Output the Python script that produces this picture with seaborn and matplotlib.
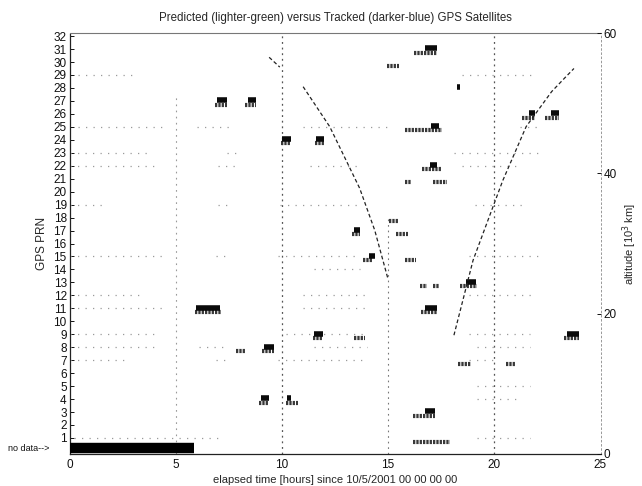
import matplotlib
matplotlib.use("Agg")
import matplotlib.pyplot as plt
import seaborn as sns
import pandas as pd

# ---------------- data ----------------
prn_ticks = list(range(1, 33))
hour_ticks = [0, 5, 10, 15, 20, 25]
alt_ticks = [0, 20, 40, 60]

# tracked passes: PRN, start hour, end hour
trk_prn   = [27, 27, 24, 24, 17, 15, 11, 9, 8, 4, 4, 31, 28, 26, 26, 25, 22, 13, 11, 9, 3]
trk_start = [6.95, 8.40, 10.00, 11.60, 13.40, 14.10, 5.95, 11.50, 9.15, 9.00, 10.25, 16.75, 18.26, 21.65, 22.65, 17.00, 16.95, 18.65, 16.75, 23.40, 16.75]
trk_end   = [7.40, 8.80, 10.45, 12.00, 13.70, 14.40, 7.10, 11.95, 9.65, 9.40, 10.45, 17.30, 18.38, 21.90, 23.05, 17.40, 17.30, 19.15, 17.30, 24.00, 17.20]

# predicted passes: PRN, start hour, end hour
prd_prn   = [27, 27, 24, 24, 17, 15, 11, 9, 9, 8, 8, 4, 4, 31, 30, 26, 26, 25, 22, 21, 21, 18, 17, 15, 13, 13, 13, 11, 9, 7, 7, 3, 1]
prd_start = [6.85, 8.25, 9.95, 11.55, 13.30, 13.80, 5.90, 11.45, 13.40, 7.85, 9.05, 8.90, 10.20, 16.20, 14.95, 21.30, 22.40, 15.80, 16.60, 15.80, 17.10, 15.05, 15.35, 15.80, 16.50, 17.10, 18.40, 16.55, 23.30, 18.30, 20.55, 16.15, 16.15]
prd_end   = [7.40, 8.80, 10.45, 12.00, 13.70, 14.30, 7.15, 11.95, 13.90, 8.30, 9.65, 9.35, 10.75, 17.30, 15.50, 21.90, 23.05, 17.55, 17.55, 16.10, 17.75, 15.45, 15.95, 16.30, 16.85, 17.40, 19.20, 17.30, 24.00, 18.90, 21.00, 17.20, 17.90]

# faint (sparse) rows: PRN, start hour, end hour
fnt_prn   = [29, 29, 25, 25, 25, 25, 23, 23, 23, 22, 22, 22, 22, 19, 19, 19, 19, 15, 15, 15, 15, 12, 12, 12, 11, 11, 9, 9, 9, 8, 8, 8, 8, 7, 7, 7, 7, 5, 4, 1, 1, 14]
fnt_start = [0.4, 18.5, 0.4, 6.0, 11.0, 21.2, 0.0, 7.4, 18.1, 0.0, 7.0, 11.3, 18.5, 0.0, 7.0, 9.9, 19.1, 0.0, 6.9, 9.8, 18.8, 0.0, 11.0, 18.8, 0.0, 11.0, 0.0, 10.2, 18.8, 0.0, 6.1, 11.5, 19.2, 0.0, 6.9, 9.8, 18.8, 19.2, 19.2, 0.2, 19.2, 11.5]
fnt_end   = [3.0, 21.8, 4.4, 7.6, 15.0, 22.1, 3.8, 7.9, 22.1, 4.2, 7.9, 13.7, 21.0, 1.6, 7.7, 13.7, 21.3, 4.4, 7.5, 13.7, 22.1, 3.3, 14.0, 21.8, 4.4, 14.0, 4.0, 14.0, 21.7, 4.0, 7.5, 14.0, 21.7, 2.7, 7.5, 14.0, 20.2, 21.7, 21.3, 7.2, 21.7, 13.7]

# "no data" row
nodata_start, nodata_end = 0.0, 5.85

# altitude of a highly elliptical object [10^3 km]
alt1_hours = [9.4, 9.9]
alt1_km    = [56.6, 55.2]
alt2_hours = [11.0, 12.25, 13.66, 14.37, 14.98]
alt2_km    = [52.4, 46.7, 37.9, 31.9, 25.1]
alt3_hours = [18.1, 19.0, 19.6, 20.4, 21.5, 22.7, 23.3, 23.75]
alt3_km    = [16.9, 27.6, 32.5, 39.0, 46.7, 51.7, 53.6, 55.0]

# ---------------- style ----------------
sns.set_theme(style="white")
plt.rcParams["font.family"] = ["Liberation Sans", "DejaVu Sans"]

W, H = 642, 486
fig = plt.figure(figsize=(W / 100, H / 100), dpi=100)
ax = fig.add_axes([69.5 / W, 1 - 453.5 / H, (600.5 - 69.5) / W, 420 / H])
ax.set_xlim(0, 25)
ax.set_ylim(-0.2, 32.2)

# vertical dotted grid
ax.vlines([10, 20], -0.2, 32.2, colors="#555555", linestyles=[(0, (1.5, 3))], lw=0.9, zorder=1)
ax.vlines([5], -0.2, 27.5, colors="#999999", linestyles=[(0, (1.5, 4))], lw=0.8, zorder=1)
ax.vlines([15], -0.2, 18.0, colors="#777777", linestyles=[(0, (1.5, 3.5))], lw=0.8, zorder=1)

# faint rows
fnt = pd.DataFrame({"prn": fnt_prn, "t0": fnt_start, "t1": fnt_end})
ax.hlines(fnt["prn"], fnt["t0"], fnt["t1"], colors="#9a9a9a",
          linestyles=[(0, (1, 5))], lw=0.9, zorder=1)

# predicted
prd = pd.DataFrame({"prn": prd_prn, "t0": prd_start, "t1": prd_end})
ax.hlines(prd["prn"] - 0.28, prd["t0"], prd["t1"], colors="#383838",
          linestyles=[(0, (0.55, 0.25))], lw=3.0, zorder=2)

# tracked
trk = pd.DataFrame({"prn": trk_prn, "t0": trk_start, "t1": trk_end})
ax.hlines(trk["prn"] + 0.05, trk["t0"], trk["t1"], colors="#0a0a0a",
          lw=4.0, zorder=3, capstyle="butt")

# no data bar
ax.hlines([0.2], [nodata_start], [nodata_end], colors="#000000", lw=7.5, zorder=3)

ax.set_yticks(prn_ticks)
ax.set_xticks(hour_ticks)
ax.tick_params(axis="both", direction="in", length=3, width=0.7, labelsize=8.5,
               colors="#111111", pad=2)
ax.tick_params(axis="x", pad=4)
ax.tick_params(axis="y", right=False)
ax.set_ylabel("GPS PRN", fontsize=8.5, labelpad=4)
ax.set_xlabel("elapsed time [hours] since 10/5/2001 00 00 00 00", fontsize=8, labelpad=3)
ax.set_title("Predicted (lighter-green) versus Tracked (darker-blue) GPS Satellites",
             fontsize=8.3, pad=9)
for s in ["left", "bottom"]:
    ax.spines[s].set_color("#222222")
    ax.spines[s].set_linewidth(0.9)
ax.spines["top"].set_color("#777777")
ax.spines["top"].set_linewidth(0.8)
ax.spines["right"].set_color("#888888")
ax.spines["right"].set_linewidth(0.6)
ax.spines["right"].set_linestyle((0, (2, 3)))

ax.text(-0.115, 0.2, "no data-->", transform=ax.get_yaxis_transform(),
        ha="left", va="center", fontsize=6.5, color="#111111")

# altitude (right axis)
ax2 = ax.twinx()
ax2.set_ylim(0, 60)
for hrs, km in [(alt1_hours, alt1_km), (alt2_hours, alt2_km), (alt3_hours, alt3_km)]:
    d = pd.DataFrame({"t": hrs, "alt": km})
    sns.lineplot(data=d, x="t", y="alt", ax=ax2, color="#222222", lw=0.9,
                 linestyle=(0, (3, 2)), estimator=None, sort=False)
ax2.set_yticks(alt_ticks)
ax2.tick_params(axis="y", direction="in", length=3, width=0.7, labelsize=8.5,
                colors="#111111", pad=2)
ax2.set_ylabel("altitude [10$^3$ km]", fontsize=8, labelpad=3)
ax2.set_xlabel("")
for s in ax2.spines.values():
    s.set_visible(False)
ax2.set_xlim(0, 25)

fig.savefig("out.png", dpi=100, facecolor="white")
